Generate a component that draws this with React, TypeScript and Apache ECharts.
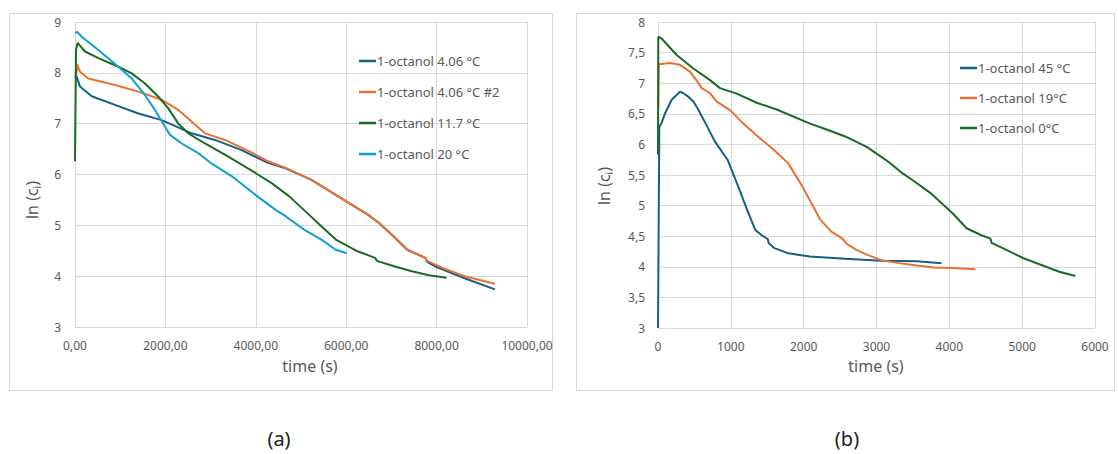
import React, { useEffect, useRef } from "react";
import * as echarts from "echarts";

// ---------- Chart (a) data ----------
const aXTicks = [0, 2000, 4000, 6000, 8000, 10000];
const aNames = ["1-octanol 4.06 °C", "1-octanol 4.06 °C #2", "1-octanol 11.7 °C", "1-octanol 20 °C"];

const a406T = [10, 22, 110, 369, 885, 1401, 1917, 2581, 3097, 3687, 4270, 4660, 5220, 5770, 6000, 6480, 6720, 7040, 7350, 7750, 7790, 8000, 8620, 9290];
const a406Y = [7.9, 7.96, 7.73, 7.54, 7.37, 7.2, 7.07, 6.81, 6.68, 6.48, 6.23, 6.12, 5.9, 5.6, 5.47, 5.21, 5.05, 4.79, 4.52, 4.36, 4.28, 4.18, 3.96, 3.74];

const a406bT = [10, 44, 49, 110, 295, 885, 1401, 1917, 2286, 2876, 3319, 3870, 4270, 4660, 5220, 5770, 6000, 6480, 6720, 7040, 7350, 7750, 7790, 8220, 8620, 9290];
const a406bY = [7.95, 8.06, 8.17, 8.02, 7.89, 7.76, 7.63, 7.47, 7.27, 6.81, 6.68, 6.45, 6.26, 6.13, 5.9, 5.6, 5.47, 5.21, 5.05, 4.79, 4.52, 4.36, 4.3, 4.13, 4.0, 3.85];

const a117T = [0, 22, 59, 221, 516, 959, 1254, 1549, 1844, 2065, 2286, 2507, 2876, 3392, 3990, 4350, 4740, 5140, 5450, 5770, 6250, 6640, 6680, 7040, 7430, 7830, 8220];
const a117Y = [6.26, 8.45, 8.59, 8.42, 8.29, 8.12, 7.99, 7.79, 7.53, 7.3, 7.0, 6.81, 6.61, 6.35, 6.03, 5.83, 5.57, 5.24, 4.98, 4.72, 4.49, 4.36, 4.3, 4.2, 4.1, 4.02, 3.97];

const a20T = [0, 22, 44, 147, 516, 959, 1254, 1549, 1770, 1991, 2102, 2360, 2728, 3000, 3480, 3990, 4430, 4660, 5060, 5450, 5770, 6010];
const a20Y = [8.78, 8.79, 8.81, 8.71, 8.45, 8.12, 7.89, 7.56, 7.27, 6.94, 6.78, 6.61, 6.42, 6.23, 5.96, 5.6, 5.31, 5.18, 4.92, 4.72, 4.52, 4.45];

// ---------- Chart (b) data ----------
const bXTicks = [0, 1000, 2000, 3000, 4000, 5000, 6000];
const bNames = ["1-octanol 45 °C", "1-octanol 19°C", "1-octanol 0°C"];

const b45T = [0, 18, 49, 98, 188, 302, 343, 416, 485, 539, 637, 780, 955, 1102, 1224, 1337, 1420, 1509, 1518, 1592, 1788, 2082, 2571, 3061, 3551, 3894];
const b45Y = [3.0, 6.29, 6.35, 6.51, 6.73, 6.86, 6.84, 6.78, 6.7, 6.6, 6.38, 6.05, 5.75, 5.31, 4.93, 4.6, 4.52, 4.45, 4.39, 4.31, 4.22, 4.17, 4.13, 4.1, 4.09, 4.06];

const b19T = [4, 10, 165, 302, 439, 539, 600, 710, 806, 989, 1171, 1400, 1592, 1788, 1984, 2082, 2229, 2376, 2522, 2571, 2586, 2718, 2865, 3061, 3306, 3551, 3796, 4041, 4359];
const b19Y = [6.6, 7.31, 7.33, 7.3, 7.19, 7.03, 6.92, 6.84, 6.7, 6.56, 6.34, 6.1, 5.91, 5.69, 5.31, 5.09, 4.77, 4.58, 4.47, 4.41, 4.38, 4.28, 4.2, 4.11, 4.06, 4.02, 3.99, 3.98, 3.96];

const b0T = [0, 4, 49, 257, 485, 714, 851, 1080, 1355, 1630, 2087, 2278, 2571, 2865, 3061, 3159, 3355, 3551, 3747, 3894, 4041, 4237, 4433, 4565, 4580, 4776, 5020, 5265, 5510, 5731];
const b0Y = [5.83, 7.76, 7.73, 7.46, 7.24, 7.05, 6.92, 6.83, 6.68, 6.57, 6.34, 6.26, 6.13, 5.96, 5.8, 5.72, 5.53, 5.37, 5.2, 5.04, 4.88, 4.63, 4.52, 4.46, 4.39, 4.28, 4.14, 4.03, 3.92, 3.85];

const COLORS = ["#156082", "#E97132", "#196B24", "#0F9ED5"];
const FONT = "'Noto Sans', 'Open Sans', sans-serif";
const GRAY = "#595959";
const GRID = "#d9d9d9";

const zip = (t: number[], y: number[]) => t.map((v, i) => [v, y[i]]);

export default function App() {
  const ref = useRef<HTMLDivElement>(null);
  useEffect(() => {
    if (!ref.current) return;
    const chart = echarts.init(ref.current, null, { renderer: "svg" });

    const axisCommon = {
      axisLine: { show: false },
      axisTick: { show: false },
      splitLine: { show: true, lineStyle: { color: GRID, width: 1 } },
      axisLabel: { color: GRAY, fontSize: 12, fontFamily: FONT },
    };

    const lineSeries = (name: string, data: number[][], color: string, idx: number) => ({
      type: "line",
      name,
      data,
      xAxisIndex: idx,
      yAxisIndex: idx,
      showSymbol: false,
      symbol: "none",
      color,
      lineStyle: { color, width: 2 },
    });

    const yTitle = (x: number, y: number) => ({
      type: "text",
      x,
      y,
      rotation: Math.PI / 2,
      style: {
        text: "{a|ln (c}{b|i}{a|)}",
        fill: GRAY,
        align: "center",
        verticalAlign: "middle",
        rich: {
          a: { fontSize: 16, fontFamily: FONT, fill: GRAY },
          b: { fontSize: 10, fontFamily: FONT, fill: GRAY, padding: [9, 0, 0, 0] },
        },
      },
    });

    const xTitle = (x: number) => ({
      type: "text",
      x,
      y: 366,
      style: { text: "time (s)", fill: GRAY, fontSize: 16, fontFamily: FONT, align: "center", verticalAlign: "middle" },
    });

    const option = {
      animation: false,
      backgroundColor: "#ffffff",
      grid: [
        { left: 75, top: 22, width: 452, height: 305 },
        { left: 658, top: 22, width: 437, height: 306 },
      ],
      xAxis: [
        {
          type: "value", gridIndex: 0, min: aXTicks[0], max: aXTicks[aXTicks.length - 1], interval: 2000,
          ...axisCommon,
          axisLabel: { ...axisCommon.axisLabel, margin: 12, formatter: (v: number) => v.toFixed(2).replace(".", ",") },
        },
        {
          type: "value", gridIndex: 1, min: bXTicks[0], max: bXTicks[bXTicks.length - 1], interval: 1000,
          ...axisCommon,
          axisLabel: { ...axisCommon.axisLabel, margin: 12, formatter: (v: number) => String(v) },
        },
      ],
      yAxis: [
        {
          type: "value", gridIndex: 0, min: 3, max: 9, interval: 1,
          ...axisCommon,
          axisLabel: { ...axisCommon.axisLabel, margin: 14 },
        },
        {
          type: "value", gridIndex: 1, min: 3, max: 8, interval: 0.5,
          ...axisCommon,
          axisLabel: { ...axisCommon.axisLabel, margin: 13, formatter: (v: number) => String(v).replace(".", ",") },
        },
      ],
      legend: [
        {
          data: aNames,
          orient: "vertical",
          left: 354,
          top: 48,
          icon: "rect",
          itemWidth: 17,
          itemHeight: 2.5,
          itemGap: 15,
          textStyle: { color: GRAY, fontSize: 13, fontFamily: FONT, lineHeight: 16, padding: [0, 0, 0, -4] },
          selectedMode: false,
        },
        {
          data: bNames,
          orient: "vertical",
          left: 955,
          top: 55,
          icon: "rect",
          itemWidth: 17,
          itemHeight: 2.5,
          itemGap: 14,
          textStyle: { color: GRAY, fontSize: 13, fontFamily: FONT, lineHeight: 16, padding: [0, 0, 0, -4] },
          selectedMode: false,
        },
      ],
      series: [
        lineSeries(aNames[0], zip(a406T, a406Y), COLORS[0], 0),
        lineSeries(aNames[1], zip(a406bT, a406bY), COLORS[1], 0),
        lineSeries(aNames[2], zip(a117T, a117Y), COLORS[2], 0),
        lineSeries(aNames[3], zip(a20T, a20Y), COLORS[3], 0),
        lineSeries(bNames[0], zip(b45T, b45Y), COLORS[0], 1),
        lineSeries(bNames[1], zip(b19T, b19Y), COLORS[1], 1),
        lineSeries(bNames[2], zip(b0T, b0Y), COLORS[2], 1),
      ],
      graphic: [
        { type: "rect", shape: { x: 9.5, y: 13.5, width: 543, height: 377 }, style: { fill: "none", stroke: GRID, lineWidth: 1 }, z: -1 },
        { type: "rect", shape: { x: 576.5, y: 13.5, width: 538, height: 377 }, style: { fill: "none", stroke: GRID, lineWidth: 1 }, z: -1 },
        yTitle(32, 200),
        yTitle(604, 186),
        xTitle(310),
        xTitle(876),
        { type: "text", x: 279, y: 438, style: { text: "(a)", fill: "#222222", fontSize: 20, fontFamily: FONT, align: "center", verticalAlign: "middle" } },
        { type: "text", x: 847, y: 438, style: { text: "(b)", fill: "#222222", fontSize: 20, fontFamily: FONT, align: "center", verticalAlign: "middle" } },
      ],
    };

    chart.setOption(option as any);
    return () => chart.dispose();
  }, []);

  return <div ref={ref} style={{ position: "fixed", left: 0, top: 0, width: 1118, height: 454 }} />;
}
